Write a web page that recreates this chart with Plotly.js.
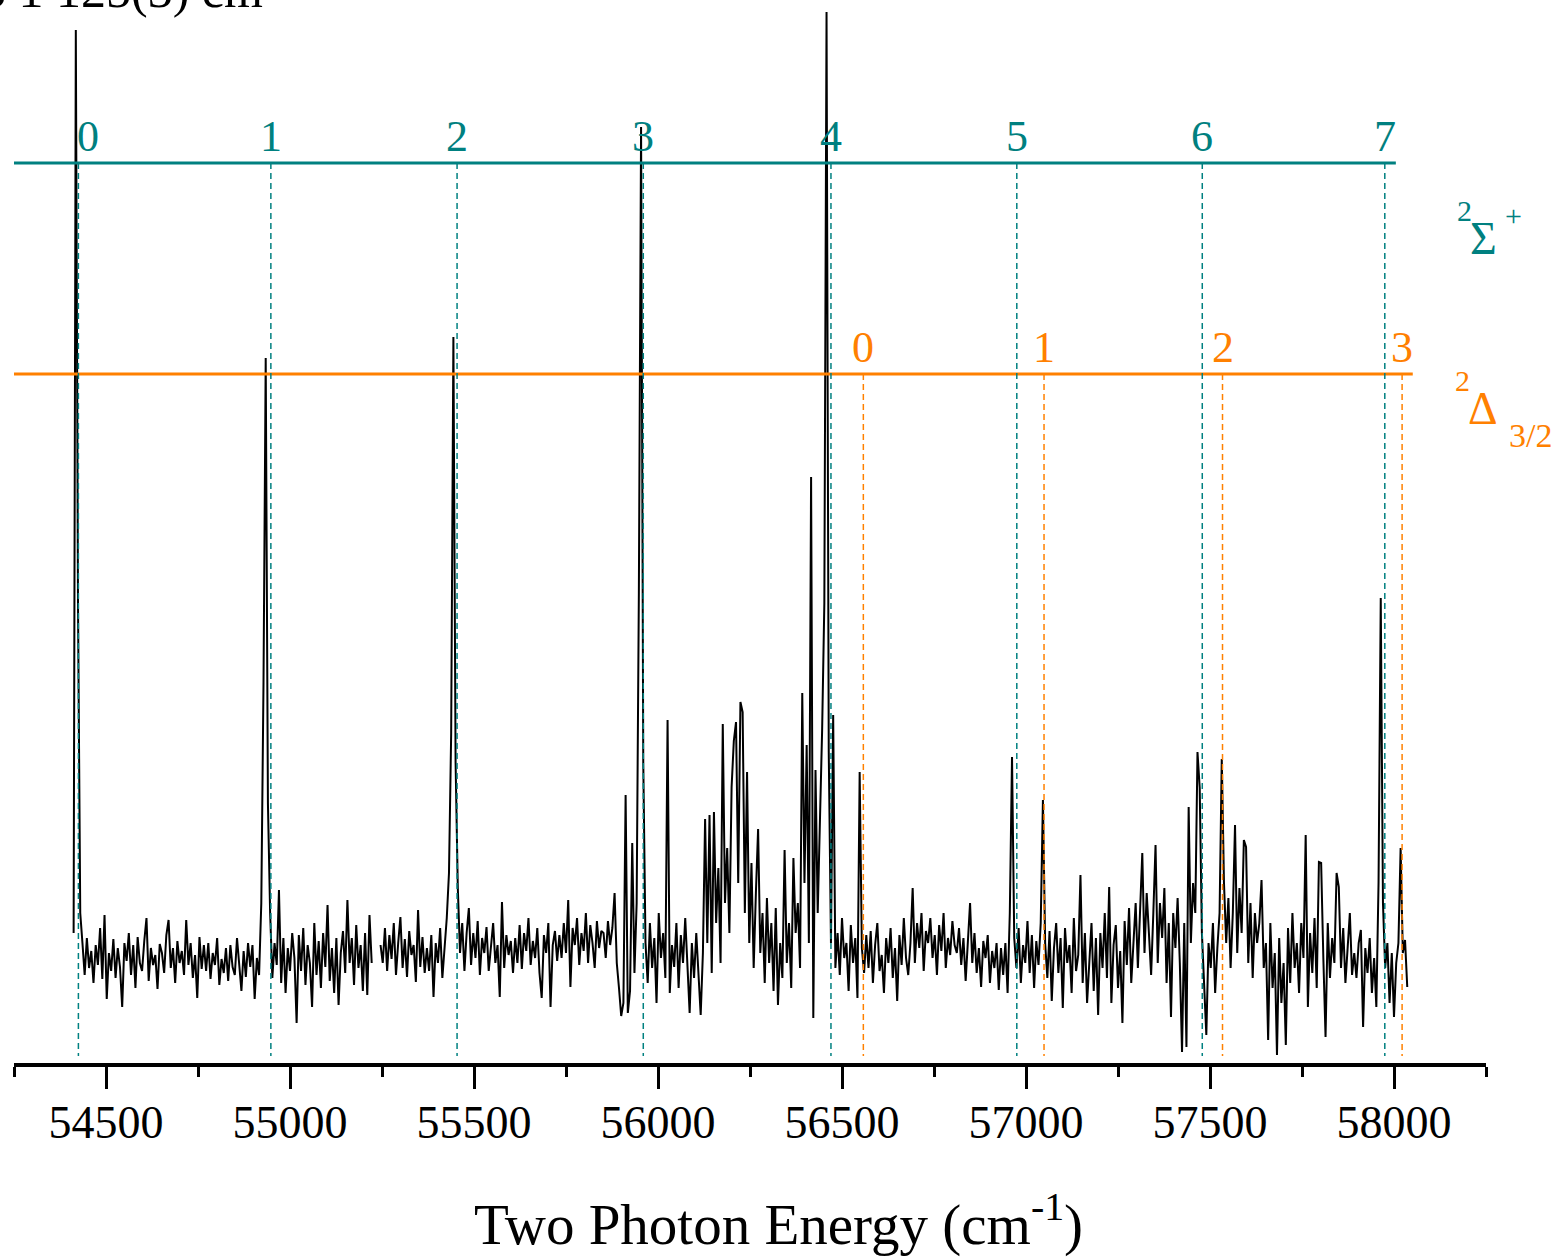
<!DOCTYPE html>
<html><head><meta charset="utf-8">
<script src="https://cdn.plot.ly/plotly-3.0.1.min.js"></script>
<style>html,body{margin:0;padding:0;background:#fff}#chart{width:1561px;height:1259px}</style>
</head><body><div id="chart"></div>
<script>
// Spectrum sampled on a uniform wavenumber grid (cm-1), intensity in arbitrary units
const waveStart = 54412;
const waveStep = 6;
const signal = [
130,1033,455,150,120,88,125,95,112,80,118,98,135,84,148,64,110,92,124,85,
115,96,56,120,102,130,88,118,75,126,100,92,122,145,82,115,98,108,74,119,
110,90,128,143,95,115,80,122,100,112,88,143,98,120,85,108,65,126,94,118,
92,120,84,110,98,125,78,104,90,115,82,118,96,88,125,100,72,112,86,120,
96,118,64,105,88,160,380,705,260,150,85,120,98,173,80,125,70,115,92,130,
105,40,128,92,135,78,118,100,56,140,88,122,75,130,96,158,82,115,70,125,
58,110,132,90,163,100,125,78,138,95,118,72,130,68,148,100,null,null,null,118,
100,135,92,128,104,140,88,120,146,95,124,86,132,108,118,81,153,96,126,90,
115,92,128,66,120,100,135,85,118,145,190,330,726,300,175,110,140,92,130,155,
98,130,105,142,88,125,110,136,92,120,140,100,118,66,161,95,128,108,122,90,
125,100,138,94,130,112,145,98,122,105,135,90,65,128,110,140,56,118,132,102,
128,105,140,110,163,76,135,118,145,98,130,112,150,100,138,120,95,142,115,132,
130,105,142,118,135,170,100,75,47,60,268,50,72,220,90,160,470,936,300,120,
80,140,95,125,60,150,105,130,85,343,70,118,96,140,75,128,100,145,88,50,
120,85,130,92,48,110,244,120,248,90,251,140,195,100,339,160,215,130,276,322,
341,180,361,351,150,291,120,200,95,170,234,110,150,80,165,100,140,72,155,58,
120,85,213,100,140,75,205,130,160,95,370,180,318,120,586,45,293,150,230,333,
460,1051,311,120,348,95,130,88,145,105,120,72,138,100,125,65,291,115,90,128,
95,132,80,118,140,92,108,70,125,100,135,85,115,62,128,98,145,105,88,120,
175,100,140,115,150,92,132,120,145,105,128,88,138,112,150,95,125,108,142,118,
110,135,98,125,82,118,160,100,130,90,115,76,122,105,128,80,112,95,120,73,
115,88,120,70,150,306,125,95,135,80,118,100,142,90,128,75,122,98,140,263,
120,85,132,62,115,140,90,125,55,135,100,118,70,145,92,108,188,80,130,60,
105,140,72,125,48,130,95,150,85,176,60,118,138,75,112,40,142,98,155,80,
120,160,95,145,210,110,170,130,88,150,218,100,160,125,175,80,140,46,150,115,
165,100,11,140,16,256,120,180,150,311,275,130,85,28,120,95,140,70,115,150,
304,180,120,165,95,150,238,110,175,130,223,216,100,160,85,150,120,140,183,95,
120,23,140,75,110,8,125,60,100,18,135,80,150,95,120,70,140,105,228,56,
130,90,145,75,201,200,105,26,140,85,125,100,190,176,95,135,80,120,150,88,
110,85,120,133,36,115,90,125,70,105,56,180,465,160,95,120,60,110,46,100,
120,215,110,123,76
];
// Vibrational progressions (cm-1)
const sigmaLevels = ['0','1','2','3','4','5','6','7'];
const sigmaPositions = [54425,54948,55454,55960,56470,56975,57479,57975];
const deltaLevels = ['0','1','2','3'];
const deltaPositions = [56558,57049,57534,58022];
const tickValues = [54500,55000,55500,56000,56500,57000,57500,58000];
const tickLabels = ['54500','55000','55500','56000','56500','57000','57500','58000'];

const TEAL = '#008080', ORANGE = '#ff8000';
const FONT = 'Liberation Serif, DejaVu Serif, serif';
const sigmaY = 900, deltaY = 689, dashBottom = 7;
const xMin = 54250, xMax = 58250;

const waves = signal.map((v, i) => waveStart + i * waveStep);

const trace = {
  x: waves, y: signal, type: 'scatter', mode: 'lines',
  line: {color: '#000', width: 2}, connectgaps: false, hoverinfo: 'x+y'
};

const shapes = [];
shapes.push({type:'line', xref:'x', yref:'y', x0:xMin, x1:58005, y0:sigmaY, y1:sigmaY, line:{color:TEAL, width:3}});
shapes.push({type:'line', xref:'x', yref:'y', x0:xMin, x1:58051, y0:deltaY, y1:deltaY, line:{color:ORANGE, width:3}});
sigmaPositions.forEach(p => shapes.push({type:'line', xref:'x', yref:'y', x0:p, x1:p, y0:sigmaY, y1:dashBottom, line:{color:TEAL, width:1.5, dash:'6px,4px'}}));
deltaPositions.forEach(p => shapes.push({type:'line', xref:'x', yref:'y', x0:p, x1:p, y0:deltaY, y1:dashBottom, line:{color:ORANGE, width:1.5, dash:'6px,4px'}}));

const annotations = [];
sigmaLevels.forEach((t, i) => annotations.push({
  text: t, x: sigmaPositions[i], y: sigmaY, xref:'x', yref:'y', xanchor:'center', yanchor:'bottom',
  xshift: i === 0 ? 10 : 0, showarrow:false, font:{family:FONT, size:44, color:TEAL}
}));
deltaLevels.forEach((t, i) => annotations.push({
  text: t, x: deltaPositions[i], y: deltaY, xref:'x', yref:'y', xanchor:'center', yanchor:'bottom',
  showarrow:false, font:{family:FONT, size:44, color:ORANGE}
}));
function lab(text, px, ypix, size, color) {
  annotations.push({text, x:(px-14)/1472, y:1063-ypix, xref:'paper', yref:'y', xanchor:'center', yanchor:'middle',
    showarrow:false, borderpad:0, font:{family:FONT, size, color}});
}
lab('2', 1464, 210, 30, TEAL);
lab('Σ', 1483, 238, 46, TEAL);
lab('+', 1513, 215, 30, TEAL);
lab('2', 1462, 380, 30, ORANGE);
lab('Δ', 1483, 408, 46, ORANGE);
lab('3/2', 1530, 435, 34, ORANGE);
// clipped text at the top-left
annotations.push({text:'3 1 125(3) cm', x:(265-14)/1472, y:1063-20, xref:'paper', yref:'y', xanchor:'right', yanchor:'bottom',
  showarrow:false, font:{family:FONT, size:50, color:'#000'}});

const layout = {
  width: 1561, height: 1259,
  margin: {l:14, r:75, t:0, b:196, pad:0},
  paper_bgcolor:'#fff', plot_bgcolor:'#fff',
  showlegend: false,
  xaxis: {
    range:[xMin, xMax], showgrid:false, zeroline:false,
    showline:true, linecolor:'#000', linewidth:4,
    ticks:'outside', ticklen:22, tickwidth:3, tickcolor:'#000',
    tickvals: tickValues, ticktext: tickLabels, ticklabelstandoff: -6,
    minor: {dtick:250, tick0:54250, ticks:'outside', ticklen:10, tickwidth:3, tickcolor:'#000', showgrid:false},
    tickfont:{family:FONT, size:46, color:'#000'},
    title:{text:'&nbsp;&nbsp;&nbsp;&nbsp;Two Photon Energy (cm<sup>-1</sup>)', font:{family:FONT, size:57, color:'#000'}, standoff:58}
  },
  yaxis: {range:[0, 1063], visible:false, fixedrange:true},
  shapes, annotations
};
Plotly.newPlot('chart', [trace], layout, {displayModeBar:false, staticPlot:true});
</script></body></html>
